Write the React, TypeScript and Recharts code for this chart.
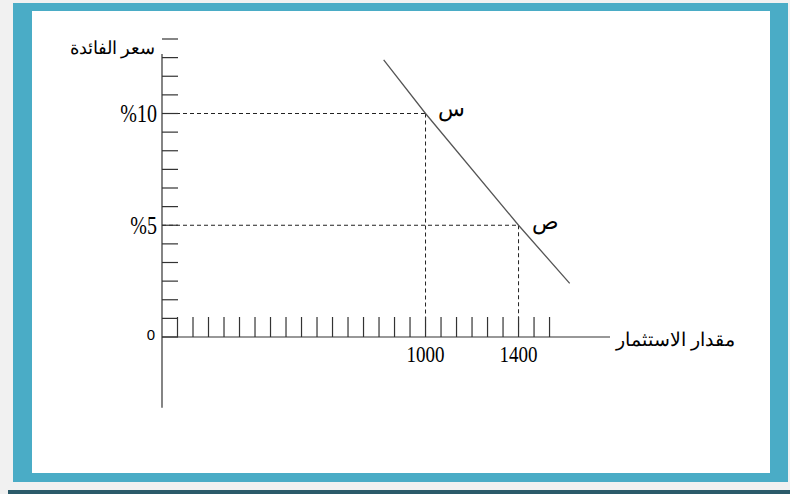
import { ComposedChart, Line, XAxis, YAxis, ReferenceLine, ReferenceDot, Label } from 'recharts';

// investment amounts (x) and interest rates (y) of the two marked points
const investment = [1000, 1400];
const rate = [10, 5];
const pointNames = ['س', 'ص'];

// the downward sloping investment demand line
const demandLine = [
  { x: 820, y: 12.4 },
  { x: 1000, y: 10 },
  { x: 1400, y: 5 },
  { x: 1620, y: 2.4 },
];

const xStep = 400 / 6;
const yStep = 5 / 6;
const xTicks = Array.from({ length: 25 }, (_, i) => 1000 + (i - 16) * xStep);
const yTicks = Array.from({ length: 17 }, (_, i) => i * yStep);
const xDomain = [1000 - 17 * xStep, 1000 + 11.9 * xStep];
const yDomain = [0, 16 * yStep];
// the vertical axis line starts a bit under the top tick and runs below the x axis
const yAxisTop = 15.2 * yStep;
const yBelow = -3.8 * yStep;

const xTickLabels = [
  { value: 1000, text: '1000' },
  { value: 1400, text: '1400' },
];
const yTickLabels = [
  { value: 5, text: '%5' },
  { value: 10, text: '%10' },
];

const serif = "'Times New Roman', 'Liberation Serif', 'DejaVu Serif', serif";
const axisColor = '#333';

const YTick = ({ x, y, payload }: any) => {
  const lbl = yTickLabels.find((t) => Math.abs(t.value - payload.value) < 0.01);
  const isZero = Math.abs(payload.value) < 0.01;
  return (
    <g>
      <line x1={x} x2={x + 16} y1={y} y2={y} stroke={axisColor} strokeWidth={1.2} />
      {lbl && (
        <text
          transform={`translate(${x - 5},${y + 8.5}) scale(1,1.3)`}
          textAnchor="end"
          fill="#000"
          fontFamily={serif}
          fontSize={20}
        >
          {lbl.text}
        </text>
      )}
      {isZero && (
        <text x={x - 11} y={y + 3} textAnchor="middle" fill="#000" fontFamily="'Liberation Sans', Arial, sans-serif" fontSize={15}>
          0
        </text>
      )}
    </g>
  );
};

const XTick = ({ x, y, payload }: any) => {
  const lbl = xTickLabels.find((t) => Math.abs(t.value - payload.value) < 0.5);
  return (
    <g>
      <line x1={x} x2={x} y1={y} y2={y - 20} stroke={axisColor} strokeWidth={1.2} />
      {lbl && (
        <text
          transform={`translate(${x},${y + 25}) scale(1,1.25)`}
          textAnchor="middle"
          fill="#000"
          fontFamily={serif}
          fontSize={19}
        >
          {lbl.text}
        </text>
      )}
    </g>
  );
};

const pointLabel = (text: string, dx: number, dy: number) => (props: any) => {
  const vb = props.viewBox;
  return (
    <text x={vb.x + dx} y={vb.y + dy} textAnchor="start" fill="#000" fontFamily={serif} fontSize={22}>
      {text}
    </text>
  );
};

export default function App() {
  return (
    <div style={{ position: 'absolute', left: 0, top: 0, width: 790, height: 494, background: '#f1f1f1', overflow: 'hidden' }}>
      <div style={{ position: 'absolute', left: 13, top: 3, width: 775, height: 479, background: '#4aacc6' }} />
      <div style={{ position: 'absolute', left: 32, top: 11, width: 738, height: 462, background: '#fff' }} />
      <div style={{ position: 'absolute', left: 8, top: 490, width: 782, height: 4, background: '#2b5b6a' }} />
      <div style={{ position: 'absolute', left: 0, top: 0 }}>
        <ComposedChart width={790} height={494} data={demandLine} margin={{ top: 39, right: 180, bottom: 127, left: 102 }}>
          <XAxis
            type="number"
            dataKey="x"
            domain={xDomain}
            ticks={xTicks}
            interval={0}
            height={30}
            tickSize={0}
            tickMargin={0}
            tickLine={false}
            tick={<XTick />}
            axisLine={{ stroke: axisColor, strokeWidth: 1.2 }}
            allowDataOverflow
          >
            <Label
              content={(p: any) => (
                <text x={p.viewBox.x + p.viewBox.width + 6} y={p.viewBox.y + 9} textAnchor="start" fill="#000" fontFamily={serif} fontSize={18.7}>
                  مقدار الاستثمار
                </text>
              )}
            />
          </XAxis>
          <YAxis
            type="number"
            domain={yDomain}
            ticks={yTicks}
            interval={0}
            width={60}
            tickSize={0}
            tickMargin={0}
            tickLine={false}
            tick={<YTick />}
            axisLine={false}
            allowDataOverflow
          >
            <Label
              content={(p: any) => (
                <text x={p.viewBox.x + p.viewBox.width - 7} y={p.viewBox.y + 15} textAnchor="end" fill="#000" fontFamily={serif} fontSize={17.5}>
                  سعر الفائدة
                </text>
              )}
            />
          </YAxis>
          <ReferenceLine
            segment={[{ x: xDomain[0], y: yAxisTop }, { x: xDomain[0], y: yBelow }]}
            stroke={axisColor}
            strokeWidth={1.2}
            ifOverflow="visible"
          />
          {investment.map((inv, i) => (
            <ReferenceLine
              key={`h${i}`}
              segment={[{ x: xDomain[0], y: rate[i] }, { x: inv, y: rate[i] }]}
              stroke="#222"
              strokeDasharray="4 3"
              strokeWidth={1}
            />
          ))}
          {investment.map((inv, i) => (
            <ReferenceLine
              key={`v${i}`}
              segment={[{ x: inv, y: rate[i] }, { x: inv, y: 0 }]}
              stroke="#222"
              strokeDasharray="4 3"
              strokeWidth={1}
            />
          ))}
          <Line
            type="linear"
            dataKey="y"
            stroke="#555"
            strokeWidth={1.3}
            dot={false}
            activeDot={false}
            isAnimationActive={false}
          />
          {investment.map((inv, i) => (
            <ReferenceDot
              key={`p${i}`}
              x={inv}
              y={rate[i]}
              r={0}
              stroke="none"
              label={{ content: pointLabel(pointNames[i], i === 0 ? 12 : 13, i === 0 ? 2 : 4) }}
            />
          ))}
        </ComposedChart>
      </div>
    </div>
  );
}
